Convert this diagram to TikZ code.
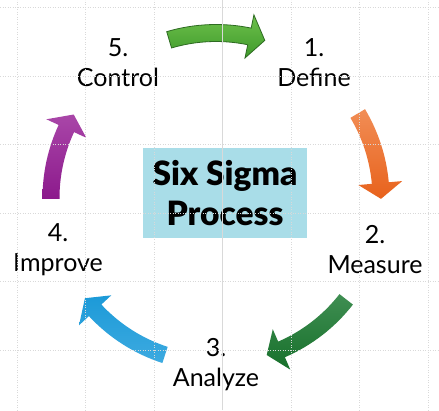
\documentclass[tikz,border=0pt]{standalone}
\usepackage{fontspec}
\setmainfont{Lato}
\newfontfamily\titlefont{Lato Black}
\definecolor{defineTop}{HTML}{6DC04B}
\definecolor{defineBot}{HTML}{3F9A2B}
\definecolor{defineLine}{HTML}{2E6B22}
\definecolor{measureTop}{HTML}{F18D55}
\definecolor{measureBot}{HTML}{E8621C}
\definecolor{analyzeTop}{HTML}{3F8E52}
\definecolor{analyzeBot}{HTML}{17702B}
\definecolor{improveTop}{HTML}{3DAAE0}
\definecolor{improveBot}{HTML}{1C9AD8}
\definecolor{controlTop}{HTML}{A946A8}
\definecolor{controlBot}{HTML}{8C1A8C}
\definecolor{titleFill}{HTML}{A9DDE8}

\begin{document}
\begin{tikzpicture}[x=1pt, y=1pt,
    phase/.style={align=center, inner sep=0pt, font=\fontsize{25}{30}\selectfont},
    arrow define/.style={top color=defineTop, bottom color=defineBot, draw=defineLine, line width=0.8pt},
    arrow measure/.style={top color=measureTop, bottom color=measureBot},
    arrow analyze/.style={top color=analyzeTop, bottom color=analyzeBot},
    arrow improve/.style={top color=improveBot, bottom color=improveTop},
    arrow control/.style={top color=controlTop, bottom color=controlBot},
    guide/.style={gray!30, dotted, line width=0.5pt}
    ]
    \useasboundingbox[fill=white] (0,0) rectangle (439,410);
    % curved block arrows on a circle round (216,212)
    \foreach \from/\to/\sty in {106.5/72.8/arrow define, 30.8/-0.3/arrow measure,
        -37.9/-72.1/arrow analyze, -108/-142.6/arrow improve, 180.3/149.6/arrow control}
      \shade[\sty, shift={(216,212)}] (\from:156.5pt)
        arc[start angle=\from, end angle=\to+5.5, radius=156.5pt]
        -- (\to+5.5:143pt) -- (\to:165pt) -- (\to+5.5:187pt) -- (\to+5.5:173.5pt)
        arc[start angle=\to+5.5, end angle=\from, radius=173.5pt] -- cycle;
    \node[rectangle, fill=titleFill, minimum width=164pt, minimum height=90pt, align=center,
      font=\fontsize{33.5}{40}\selectfont\titlefont] (title) at (225,217) {Six Sigma\\Process};
    \node[phase] (define) at (314,347.5) {1.\\Define};
    \node[phase] (measure) at (375,160) {2.\\Measure};
    \node[phase] (analyze) at (216,45) {3.\\Analyze};
    \node[phase] (improve) at (58,160) {4.\\Improve};
    \node[phase] (control) at (118,347.5) {5.\\Control};
    % slide guides
    \foreach \gx in {17,85.5,154,291,359.5,428}
      \draw[guide] (\gx,0) -- (\gx,410);
    \foreach \gy in {60,128.5,197,265.5,334,402.5}
      \draw[guide] (0,\gy) -- (439,\gy);
    \draw[gray!30, line width=0.5pt] (222.5,0) -- (222.5,410);
  \end{tikzpicture}
\end{document}
